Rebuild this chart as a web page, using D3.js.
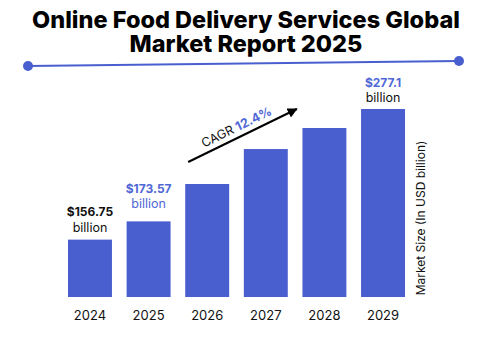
<!DOCTYPE html>
<html>
<head>
<meta charset="utf-8">
<script src="https://cdn.jsdelivr.net/npm/d3@7"></script>
<style>
  html, body { margin: 0; padding: 0; background: #fff; }
  svg { display: block; font-family: Inter, "Noto Sans", sans-serif; }
</style>
</head>
<body>
<svg id="chart" width="498" height="357"></svg>
<script>
const years = ["2024", "2025", "2026", "2027", "2028", "2029"];
const values = [156.75, 173.57, 208.0, 240.2, 259.6, 277.1];
const valueLabels = ["$156.75", "$173.57", null, null, null, "$277.1"];
const titleLines = ["Online Food Delivery Services Global", "Market Report 2025"];
const cagrLabel = ["CAGR ", "12.4%"];
const yTitle = "Market Size (In USD billion)";

const blue = "#4a5fcf";
const blueText = "#5068d6";

const svg = d3.select("#chart");

// Title
svg.append("g").selectAll("text").data(titleLines).join("text")
  .attr("x", 246).attr("y", (d, i) => 28 + i * 23.5)
  .attr("text-anchor", "middle")
  .attr("font-size", 23.5).attr("font-weight", 800).attr("fill", "#000")
  .text(d => d);

// Decorative line with dots
const deco = [[28, 66], [459, 61]];
svg.append("line")
  .attr("x1", deco[0][0]).attr("y1", deco[0][1])
  .attr("x2", deco[1][0]).attr("y2", deco[1][1])
  .attr("stroke", blue).attr("stroke-width", 2);
svg.selectAll("circle.dot").data(deco).join("circle")
  .attr("class", "dot").attr("cx", d => d[0]).attr("cy", d => d[1]).attr("r", 5).attr("fill", blue);

// Scales
const x = d3.scaleBand().domain(years).range([68, 405]).paddingInner(0.25).paddingOuter(0);
const y = d3.scaleLinear().domain([103.9, 277.1]).range([297, 109]);

// Bars
svg.append("g").selectAll("rect").data(years).join("rect")
  .attr("x", d => x(d)).attr("width", x.bandwidth())
  .attr("y", (d, i) => y(values[i])).attr("height", (d, i) => y.range()[0] - y(values[i]))
  .attr("fill", blue);

// X axis labels
const xAxis = d3.axisBottom(x).tickSize(0).tickPadding(0);
const gx = svg.append("g").attr("transform", `translate(0,${y.range()[0]})`).call(xAxis);
gx.select(".domain").remove();
gx.selectAll("text").attr("font-size", 13).attr("fill", "#111")
  .attr("font-family", "Inter, 'Noto Sans', sans-serif").attr("dy", 0).attr("y", 23);

// Value labels
const labelStyles = {
  "2024": { val: "#111", bil: "#111", gap: 8 },
  "2025": { val: blueText, bil: blueText, gap: 13 },
  "2029": { val: blueText, bil: "#111", gap: 7 }
};
years.forEach((yr, i) => {
  if (!valueLabels[i]) return;
  const st = labelStyles[yr];
  const cx = x(yr) + x.bandwidth() / 2;
  const top = y(values[i]);
  svg.append("text").attr("x", cx).attr("y", top - st.gap)
    .attr("text-anchor", "middle").attr("font-size", 12.5).attr("fill", st.bil)
    .text("billion");
  svg.append("text").attr("x", cx).attr("y", top - st.gap - 15.5)
    .attr("text-anchor", "middle").attr("font-size", 12).attr("font-weight", 700).attr("fill", st.val)
    .text(valueLabels[i]);
});

// CAGR arrow
svg.append("defs").append("marker")
  .attr("id", "ah").attr("viewBox", "0 0 10 10").attr("refX", 9).attr("refY", 5)
  .attr("markerWidth", 5).attr("markerHeight", 5).attr("orient", "auto")
  .append("path").attr("d", "M0,0 L10,5 L0,10 Z").attr("fill", "#000");
const ax1 = x("2026") + 3, ay1 = y(values[2]) - 22;
const ax2 = x("2027") + x.bandwidth() + 9, ay2 = y(values[4]) - 19;
svg.append("line").attr("x1", ax1).attr("y1", ay1).attr("x2", ax2).attr("y2", ay2)
  .attr("stroke", "#000").attr("stroke-width", 2).attr("marker-end", "url(#ah)");
const ang = Math.atan2(ay2 - ay1, ax2 - ax1) * 180 / Math.PI;
const mx = (ax1 + ax2) / 2 - 2, my = (ay1 + ay2) / 2;
const ct = svg.append("text")
  .attr("transform", `translate(${mx},${my}) rotate(${ang})`)
  .attr("text-anchor", "middle").attr("y", -5).attr("font-size", 12.5);
ct.append("tspan").attr("fill", "#111").text(cagrLabel[0]);
ct.append("tspan").attr("fill", blueText).attr("font-weight", 700).text(cagrLabel[1]);

// Y axis title
svg.append("text")
  .attr("transform", `translate(425,218) rotate(-90)`)
  .attr("text-anchor", "middle").attr("font-size", 12).attr("fill", "#111")
  .text(yTitle);
</script>
</body>
</html>
